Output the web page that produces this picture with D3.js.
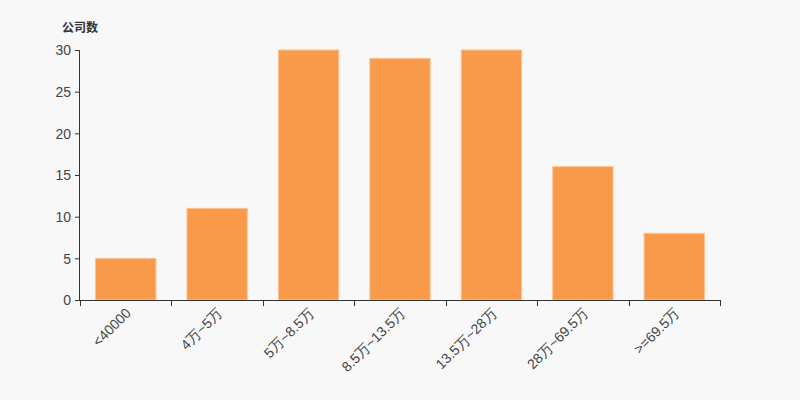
<!DOCTYPE html>
<html><head><meta charset="utf-8">
<script src="https://cdn.jsdelivr.net/npm/d3@7"></script>
<style>html,body{margin:0;padding:0;background:#f8f8f8;}svg{display:block;font-family:"Liberation Sans",Arial,sans-serif;}</style>
</head><body><div id="c"></div>
<script>
const categories = ["<40000","4万~5万","5万~8.5万","8.5万~13.5万","13.5万~28万","28万~69.5万",">=69.5万"];
const values = [5, 11, 30, 29, 30, 16, 8];
const yTicks = [0, 5, 10, 15, 20, 25, 30];
const yTitle = "公司数";

const W = 800, H = 400;
const m = {left: 80, right: 80, top: 50, bottom: 100};
const svg = d3.select("#c").append("svg").attr("width", W).attr("height", H);
svg.append("rect").attr("width", W).attr("height", H).attr("fill", "#f8f8f8");

const x = d3.scaleBand().domain(categories).range([m.left, W - m.right]).paddingInner(0.34).paddingOuter(0.17);
const xb = d3.scaleBand().domain(categories).range([m.left, W - m.right]);
const y = d3.scaleLinear().domain([0, 30]).range([H - m.bottom, m.top]);

svg.append("g").selectAll("rect").data(values).join("rect")
  .attr("x", (d, i) => x(categories[i]))
  .attr("width", x.bandwidth())
  .attr("y", d => y(d))
  .attr("height", d => y(0) - y(d))
  .attr("fill", "#f89a4a")
  .attr("stroke", "#fbc293").attr("stroke-width", 1);

// y axis
const ya = svg.append("g").attr("transform", `translate(${m.left},0)`)
  .call(d3.axisLeft(y).tickValues(yTicks).tickSize(5).tickPadding(4));
ya.select(".domain").attr("stroke", "#333").attr("d", `M-0.5,${y(30)}V${y(0)}`);
ya.selectAll(".tick line").attr("stroke", "#333");
ya.selectAll(".tick text").attr("fill", "#444").style("font-size", "14px").attr("dy", "0.35em");

// x axis
const xa = svg.append("g").attr("transform", `translate(0,${y(0)})`);
xa.append("path").attr("d", `M${m.left},0.5H${W - m.right}`).attr("stroke", "#333").attr("fill", "none");
const bounds = categories.map(c => xb(c)).concat([W - m.right]);
xa.selectAll("line.t").data(bounds).join("line").attr("class", "t")
  .attr("x1", d => Math.round(d) + 0.5).attr("x2", d => Math.round(d) + 0.5)
  .attr("y1", 0).attr("y2", 6).attr("stroke", "#333");
xa.selectAll("text").data(categories).join("text")
  .attr("transform", d => `translate(${xb(d) + xb.bandwidth() / 2 - 1},7) rotate(-45)`)
  .attr("text-anchor", "end").attr("dy", "0.71em")
  .attr("fill", "#444").style("font-size", "14px").text(d => d);

svg.append("text").attr("x", 62).attr("y", 32).attr("fill", "#333")
  .style("font-size", "12px").style("font-weight", "bold")
  .style("font-family", "'Noto Sans CJK SC',sans-serif").text(yTitle);
</script></body></html>
